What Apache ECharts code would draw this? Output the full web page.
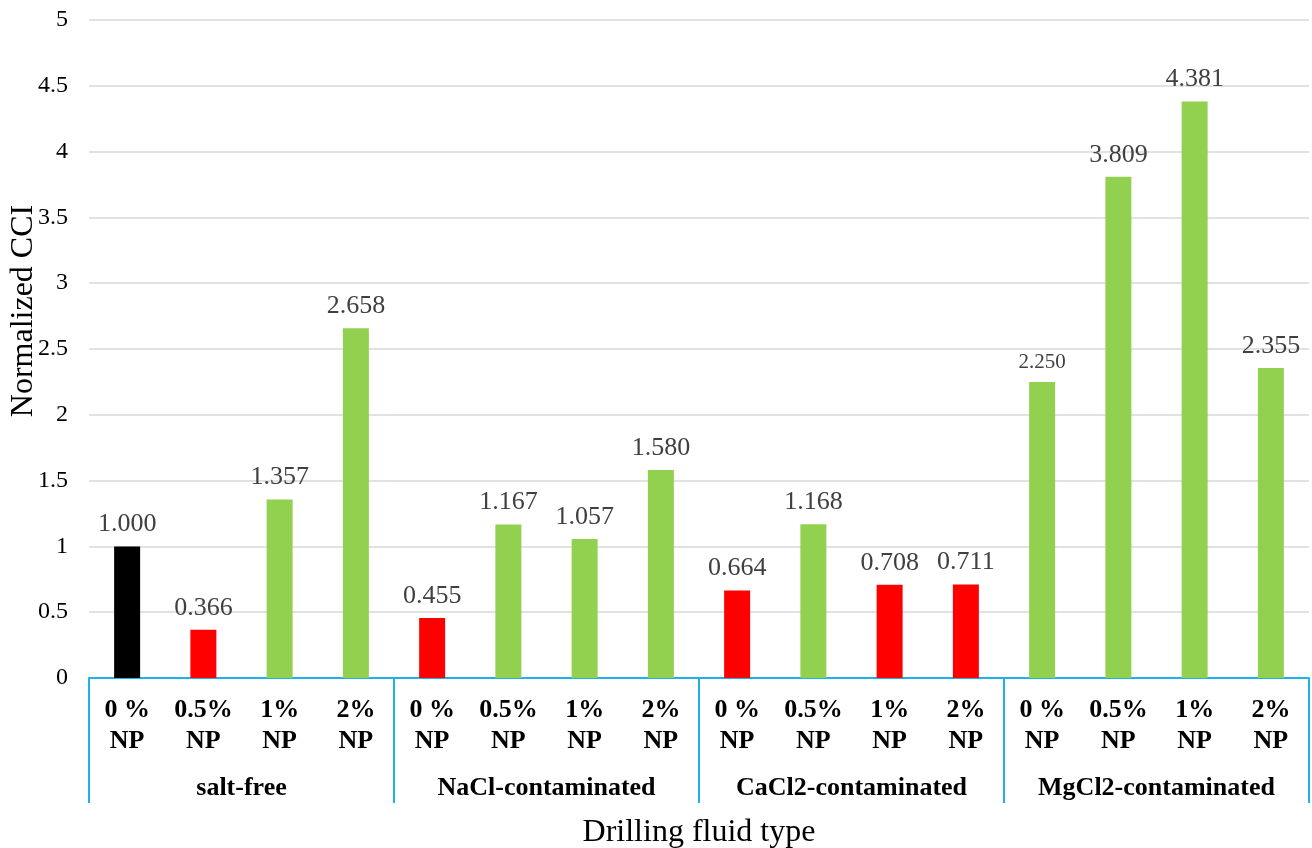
<!DOCTYPE html>
<html>
<head>
<meta charset="utf-8">
<script src="https://cdn.jsdelivr.net/npm/echarts@6/dist/echarts.min.js"></script>
<style>
html,body{margin:0;padding:0;background:#fff;}
#chart{width:1312px;height:848px;}
</style>
</head>
<body>
<div id="chart"></div>
<script>
const groups = ['salt-free', 'NaCl-contaminated', 'CaCl2-contaminated', 'MgCl2-contaminated'];
const npLevels = ['0 %\nNP', '0.5%\nNP', '1%\nNP', '2%\nNP'];
const values = [
  1.000, 0.366, 1.357, 2.658,
  0.455, 1.167, 1.057, 1.580,
  0.664, 1.168, 0.708, 0.711,
  2.250, 3.809, 4.381, 2.355
];
const yTicks = { min: 0, max: 5, interval: 0.5 };
const yTitle = 'Normalized CCI';
const xTitle = 'Drilling fluid type';

const categories = [];
groups.forEach(g => npLevels.forEach(n => categories.push(g + '|' + n)));

const FONT = '"Liberation Serif", "Times New Roman", serif';
const BLUE = '#1CB2EC';

function barColor(i, v) {
  if (i === 0) return '#000000';
  return v < 1 ? '#FF0000' : '#92D050';
}

const seriesData = values.map((v, i) => {
  const item = { value: v, itemStyle: { color: barColor(i, v) } };
  if (i === 12) item.label = { fontSize: 21 };
  return item;
});

const chart = echarts.init(document.getElementById('chart'));
chart.setOption({
  animation: false,
  grid: { left: 89, right: 3, top: 20, bottom: 170, containLabel: false, outerBoundsMode: 'none' },
  graphic: [{
    type: 'text',
    x: 24,
    y: 311,
    rotation: Math.PI / 2,
    style: {
      text: yTitle,
      font: '32px "Liberation Serif", "Times New Roman", serif',
      fill: '#000',
      align: 'center',
      verticalAlign: 'middle'
    }
  }],
  xAxis: [
    {
      type: 'category',
      data: categories,
      position: 'bottom',
      axisLine: { show: false },
      axisTick: { show: false },
      axisLabel: {
        interval: 0,
        margin: 17,
        fontFamily: FONT,
        fontWeight: 'bold',
        fontSize: 26,
        lineHeight: 31,
        color: '#000',
        formatter: v => v.split('|')[1]
      }
    },
    {
      type: 'category',
      data: groups,
      position: 'bottom',
      axisLine: { show: true, lineStyle: { color: BLUE, width: 2 } },
      axisTick: { show: true, length: 125, inside: false, lineStyle: { color: BLUE, width: 2 } },
      axisLabel: {
        interval: 0,
        margin: 97,
        fontFamily: FONT,
        fontWeight: 'bold',
        fontSize: 26,
        color: '#000'
      },
      name: xTitle,
      nameLocation: 'middle',
      nameGap: 139,
      nameTextStyle: { fontFamily: FONT, fontSize: 32, color: '#000' }
    }
  ],
  yAxis: {
    type: 'value',
    min: yTicks.min,
    max: yTicks.max,
    interval: yTicks.interval,
    axisLine: { show: false },
    axisTick: { show: false },
    splitLine: { lineStyle: { color: '#D9D9D9', width: 1.5 } },
    axisLabel: { fontFamily: FONT, fontSize: 24, color: '#000', margin: 21 }
  },
  series: [{
    type: 'bar',
    xAxisIndex: 0,
    barWidth: 26,
    data: seriesData,
    label: {
      show: true,
      position: 'top',
      distance: 9,
      fontFamily: FONT,
      fontSize: 26,
      color: '#404040',
      formatter: p => p.value.toFixed(3)
    }
  }]
});
</script>
</body>
</html>
